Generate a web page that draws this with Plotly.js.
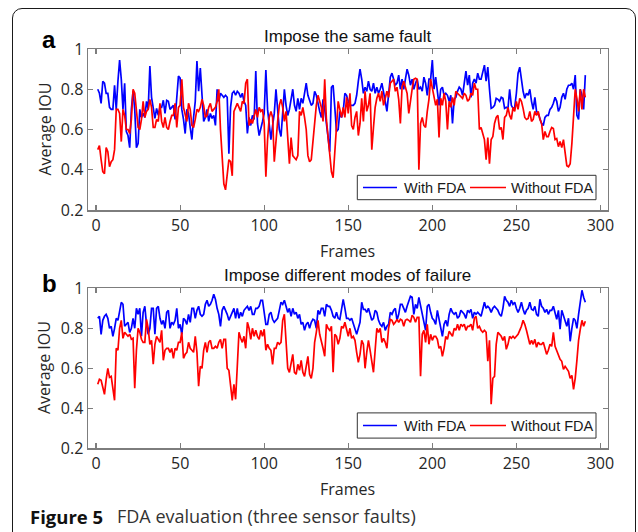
<!DOCTYPE html>
<html><head><meta charset="utf-8">
<script src="https://cdn.plot.ly/plotly-3.0.1.min.js"></script>
<style>
html,body{margin:0;padding:0;background:#fff;}
#wrap{position:relative;width:638px;height:532px;overflow:hidden;background:#fff;}
#chart{position:absolute;left:0;top:0;width:638px;height:532px;}
#frame{position:absolute;left:12px;top:8px;width:624px;height:600px;border:1.5px solid #1a1a1a;border-radius:10px;pointer-events:none;box-sizing:border-box;}
</style></head><body>
<div id="wrap"><div id="chart"></div><div id="frame"></div></div>
<script>
// (a) Impose the same fault
const sameWithFDA = [
.80,.78,.73,.84,.83,.78,.78,.71,.70,.70,
.82,.70,.84,.945,.85,.70,.83,.59,.57,.51,
.70,.79,.70,.51,.53,.70,.66,.68,.66,.74,
.70,.915,.76,.70,.655,.705,.67,.71,.71,.745,
.68,.745,.74,.70,.71,.72,.65,.74,.865,.855,
.70,.65,.58,.70,.68,.61,.55,.66,.74,.94,
.79,.905,.74,.64,.66,.70,.64,.68,.655,.67,
.62,.80,.74,.78,.77,.76,.77,.76,.48,.71,
.78,.79,.77,.79,.78,.76,.78,.74,.72,.58,
.66,.62,.67,.65,.89,.63,.57,.60,.64,.68,
.895,.70,.62,.55,.62,.68,.80,.70,.60,.565,
.70,.80,.72,.67,.70,.755,.80,.72,.69,.755,
.70,.755,.73,.78,.83,.77,.74,.72,.73,.79,
.77,.72,.69,.66,.75,.70,.62,.55,.49,.81,
.82,.71,.59,.60,.69,.66,.69,.78,.77,.74,
.72,.72,.72,.73,.77,.84,.90,.85,.78,.81,
.79,.84,.80,.79,.83,.78,.81,.78,.80,.83,
.79,.74,.69,.78,.86,.88,.85,.82,.83,.87,
.80,.85,.80,.85,.90,.87,.82,.85,.80,.83,
.85,.80,.81,.79,.86,.83,.77,.85,.85,.945,
.80,.86,.80,.72,.80,.81,.77,.78,.77,.74,
.77,.63,.75,.76,.79,.81,.80,.77,.83,.89,
.82,.87,.76,.83,.85,.83,.88,.85,.85,.88,
.92,.84,.91,.80,.705,.71,.72,.755,.75,.74,
.76,.755,.705,.71,.705,.80,.72,.705,.71,.78,
.88,.91,.84,.79,.755,.78,.77,.80,.74,.70,
.76,.69,.68,.65,.63,.62,.66,.67,.67,.70,
.71,.73,.76,.74,.69,.71,.76,.78,.75,.80,
.82,.82,.83,.80,.87,.67,.65,.80,.77,.70,.87];

const sameWithoutFDA = [
.50,.52,.45,.39,.38,.51,.49,.415,.44,.45,
.50,.70,.70,.68,.54,.70,.67,.60,.60,.58,
.65,.80,.78,.70,.61,.60,.65,.74,.66,.69,
.70,.75,.71,.61,.61,.65,.64,.73,.64,.61,
.66,.61,.60,.64,.67,.67,.73,.61,.71,.72,
.85,.71,.67,.64,.73,.70,.62,.61,.65,.70,
.69,.71,.75,.72,.66,.67,.71,.73,.69,.70,
.71,.74,.80,.60,.46,.33,.30,.38,.45,.44,
.37,.69,.71,.73,.71,.69,.74,.73,.83,.85,
.62,.65,.63,.66,.70,.66,.71,.69,.70,.63,
.365,.55,.66,.69,.66,.44,.55,.64,.72,.75,
.71,.64,.69,.55,.43,.56,.47,.46,.45,.47,
.69,.67,.71,.66,.60,.47,.44,.45,.55,.63,
.72,.77,.74,.71,.64,.85,.65,.56,.47,.39,
.36,.48,.60,.74,.70,.66,.71,.66,.76,.68,
.78,.62,.60,.66,.69,.57,.63,.755,.64,.79,
.69,.72,.78,.50,.61,.71,.755,.78,.74,.79,
.72,.76,.79,.76,.83,.84,.85,.79,.81,.75,
.63,.81,.84,.81,.78,.68,.755,.80,.85,.855,
.85,.40,.63,.66,.62,.61,.69,.75,.85,.81,
.755,.72,.75,.56,.755,.72,.78,.74,.60,.74,
.71,.76,.72,.79,.78,.77,.76,.755,.78,.77,
.74,.75,.78,.77,.83,.80,.80,.60,.61,.58,
.55,.45,.56,.43,.55,.565,.63,.66,.67,.60,
.61,.55,.66,.67,.71,.67,.65,.71,.69,.74,
.70,.755,.74,.705,.66,.65,.655,.69,.64,.65,
.69,.67,.69,.65,.63,.55,.59,.565,.565,.59,
.61,.605,.55,.555,.515,.54,.51,.55,.48,.42,
.415,.43,.53,.66,.80,.755,.69,.80,.70,.80,.76];

// (b) Impose different modes of failure
const diffWithFDA = [
.85,.86,.77,.84,.86,.87,.85,.80,.81,.76,
.80,.85,.84,.88,.93,.92,.81,.82,.83,.78,
.80,.85,.80,.90,.87,.90,.76,.88,.91,.82,
.77,.80,.90,.90,.77,.90,.91,.85,.82,.84,
.80,.88,.89,.80,.83,.82,.84,.90,.80,.82,
.77,.85,.84,.82,.87,.83,.90,.90,.85,.89,
.91,.87,.86,.87,.92,.94,.91,.92,.94,.97,
.945,.90,.87,.81,.89,.91,.89,.87,.84,.86,
.88,.90,.85,.90,.85,.88,.86,.89,.90,.91,
.89,.91,.87,.87,.90,.90,.91,.94,.94,.87,
.82,.82,.87,.88,.845,.83,.84,.85,.89,.93,
.92,.94,.91,.88,.90,.86,.90,.87,.88,.85,
.87,.82,.83,.79,.82,.83,.80,.83,.845,.84,
.80,.89,.87,.90,.90,.86,.92,.91,.91,.89,
.86,.85,.88,.85,.845,.90,.945,.90,.85,.85,
.84,.85,.82,.80,.77,.80,.83,.93,.895,.895,
.88,.90,.87,.84,.85,.89,.88,.84,.82,.81,
.83,.79,.81,.82,.88,.87,.89,.90,.84,.87,
.92,.92,.90,.88,.91,.94,.96,.955,.87,.92,
.90,.955,.91,.88,.84,.79,.91,.92,.88,.85,
.84,.82,.89,.84,.80,.76,.82,.84,.81,.87,
.90,.88,.87,.88,.85,.86,.89,.88,.87,.85,
.89,.88,.895,.85,.88,.87,.88,.87,.86,.895,
.93,.90,.91,.90,.88,.90,.91,.90,.89,.87,
.86,.90,.96,.94,.93,.91,.94,.92,.93,.90,
.88,.90,.93,.895,.87,.89,.90,.93,.895,.89,
.91,.87,.86,.945,.91,.90,.88,.895,.87,.89,
.89,.91,.88,.845,.89,.795,.89,.86,.83,.81,
.85,.735,.80,.85,.84,.80,.87,.92,.99,.955,.93];

const diffWithoutFDA = [
.52,.545,.54,.50,.47,.545,.60,.555,.56,.50,
.44,.70,.69,.80,.84,.75,.78,.77,.76,.77,
.745,.75,.50,.69,.80,.78,.745,.73,.73,.845,
.80,.72,.74,.62,.72,.76,.745,.73,.79,.64,
.69,.70,.70,.68,.70,.65,.70,.69,.73,.73,
.78,.65,.67,.68,.73,.70,.69,.68,.76,.68,
.51,.61,.60,.69,.73,.68,.73,.74,.70,.70,
.71,.70,.73,.745,.70,.745,.745,.60,.59,.52,
.44,.52,.445,.61,.78,.75,.73,.76,.70,.83,
.80,.745,.80,.76,.79,.76,.745,.79,.76,.795,
.69,.72,.70,.69,.62,.70,.70,.73,.72,.73,
.84,.87,.72,.60,.58,.62,.67,.58,.57,.62,
.59,.64,.58,.56,.62,.66,.57,.55,.60,.73,
.78,.84,.77,.74,.70,.66,.82,.80,.79,.81,
.58,.77,.76,.72,.75,.81,.80,.83,.79,.76,
.80,.75,.76,.74,.68,.63,.67,.74,.72,.60,
.68,.74,.69,.64,.58,.69,.80,.78,.80,.73,
.75,.73,.70,.80,.845,.84,.82,.83,.845,.83,
.845,.84,.81,.84,.845,.84,.83,.865,.855,.83,
.855,.855,.56,.77,.79,.73,.82,.72,.77,.74,
.76,.76,.745,.70,.71,.66,.70,.76,.745,.785,
.775,.76,.80,.79,.82,.79,.82,.81,.82,.79,
.81,.81,.82,.79,.85,.86,.80,.81,.79,.78,
.79,.78,.635,.74,.42,.55,.56,.72,.78,.77,
.76,.74,.76,.695,.72,.76,.75,.76,.75,.76,
.77,.79,.81,.84,.82,.79,.745,.72,.74,.72,
.745,.705,.73,.72,.72,.73,.70,.67,.69,.72,
.71,.78,.71,.69,.67,.645,.635,.595,.61,.595,
.585,.55,.565,.495,.55,.64,.74,.795,.84,.81,.835];

const xTicks = [0, 50, 100, 150, 200, 250, 300];
const yTicks = [0.2, 0.4, 0.6, 0.8, 1];
const seriesNames = ['With FDA', 'Without FDA'];
const seriesColors = ['#0000ff', '#ff0000'];
const panelTitles = ['Impose the same fault', 'Impose different modes of failure'];
const panelLetters = ['a', 'b'];
const xLabel = 'Frames';
const yLabel = 'Average IOU';
const captionBold = 'Figure 5';
const captionText = 'FDA evaluation (three sensor faults)';

const W = 638, H = 532;
const px = x => x / W;
const py = y => 1 - y / H;
const frames = arr => arr.map((_, i) => i + 1);

function tr(y, name, color, xa, ya) {
  return {x: frames(y), y: y, type: 'scatter', mode: 'lines', name: name,
    line: {color: color, width: 1.7}, xaxis: xa, yaxis: ya, showlegend: false, hoverinfo: 'skip'};
}
const data = [
  tr(sameWithFDA, seriesNames[0], seriesColors[0], 'x', 'y'),
  tr(sameWithoutFDA, seriesNames[1], seriesColors[1], 'x', 'y'),
  tr(diffWithFDA, seriesNames[0], seriesColors[0], 'x2', 'y2'),
  tr(diffWithoutFDA, seriesNames[1], seriesColors[1], 'x2', 'y2')
];

const axCol = '#7d7d7d';
const tickFont = {family: 'Open Sans, Noto Sans, sans-serif', size: 16, color: '#262626'};
function xax(anchor) {
  return {domain: [px(88), px(607.5)], range: [-4.8, 304.2], anchor: anchor,
    tickvals: xTicks, ticks: 'inside', ticklen: 5, tickwidth: 1.2, tickcolor: axCol,
    showline: true, linecolor: axCol, linewidth: 1.5, mirror: 'ticks',
    showgrid: false, zeroline: false, tickfont: tickFont, fixedrange: true};
}
function yax(anchor, top, bottom) {
  return {domain: [py(bottom), py(top)], range: [0.2, 1], anchor: anchor,
    tickvals: yTicks, ticks: 'inside', ticklen: 5, tickwidth: 1.2, tickcolor: axCol,
    showline: true, linecolor: axCol, linewidth: 1.5, mirror: 'ticks',
    showgrid: false, zeroline: false, tickfont: tickFont, fixedrange: true};
}
const titleFont = {family: 'Liberation Sans, Arial, sans-serif', size: 17, color: '#111'};
const labFont = {family: 'Open Sans, Noto Sans, sans-serif', size: 16, color: '#262626'};
const legFont = {family: 'Liberation Sans, Arial, sans-serif', size: 14.5, color: '#1a1a1a'};
function ann(text, x, y, font, opts) {
  return Object.assign({text: text, x: px(x), y: py(y), xref: 'paper', yref: 'paper',
    showarrow: false, font: font, xanchor: 'center', yanchor: 'middle'}, opts || {});
}
const letterFont = {family: 'Liberation Sans, Arial, sans-serif', size: 24, color: '#000'};

// legend boxes (one per panel), built from series names/colours
const shapes = [];
const annotations = [
  ann(panelTitles[0], 347.5, 36, titleFont),
  ann(panelTitles[1], 347.5, 275, titleFont),
  ann(yLabel, 44, 129.5, labFont, {textangle: -90}),
  ann(yLabel, 44, 368, labFont, {textangle: -90}),
  ann(xLabel, 347.5, 251, labFont),
  ann(xLabel, 347.5, 489, labFont),
  ann('<b>' + panelLetters[0] + '</b>', 49, 39, letterFont),
  ann('<b>' + panelLetters[1] + '</b>', 49, 283, letterFont),
  ann('<b>' + captionBold + '</b>', 28, 516, {family: 'Open Sans, sans-serif', size: 18.5, color: '#111'}, {xanchor: 'left'}),
  ann(captionText, 115, 516, {family: 'Open Sans, sans-serif', size: 18, color: '#333'}, {xanchor: 'left'})
];
function addLegend(top, bottom) {
  const cy = (top + bottom) / 2;
  shapes.push({type: 'rect', xref: 'paper', yref: 'paper', x0: px(357.3), x1: px(596), y0: py(bottom), y1: py(top),
    line: {color: '#333', width: 1}, fillcolor: '#fff', layer: 'above'});
  const lineX = [[363, 397], [470, 506]];
  const textX = [402, 509];
  for (let i = 0; i < 2; i++) {
    shapes.push({type: 'line', xref: 'paper', yref: 'paper', x0: px(lineX[i][0]), x1: px(lineX[i][1]),
      y0: py(cy), y1: py(cy), line: {color: seriesColors[i], width: 1.7}, layer: 'above'});
    annotations.push(ann(seriesNames[i], textX[i], cy + 0.5, legFont, {xanchor: 'left'}));
  }
}
addLegend(175.3, 199.7);
addLegend(412.9, 438.1);

const layout = {
  width: W, height: H, margin: {l: 0, r: 0, t: 0, b: 0},
  paper_bgcolor: 'rgba(0,0,0,0)', plot_bgcolor: '#ffffff',
  showlegend: false,
  xaxis: xax('y'), yaxis: yax('x', 49, 210),
  xaxis2: xax('y2'), yaxis2: yax('x2', 288.3, 448.3),
  shapes: shapes,
  annotations: annotations
};
Plotly.newPlot('chart', data, layout, {staticPlot: true, displayModeBar: false});
</script></body></html>
